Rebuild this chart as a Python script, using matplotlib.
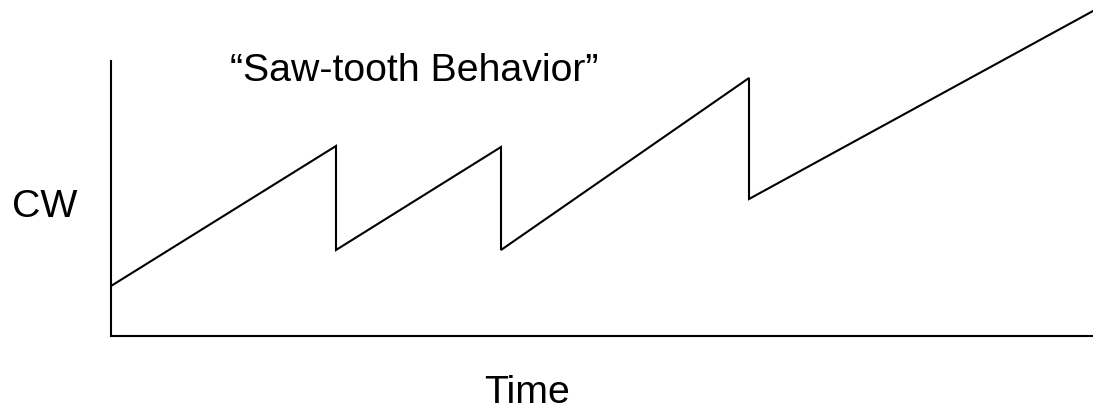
"""Saw-tooth congestion window sketch."""

import matplotlib

matplotlib.use("Agg")
import matplotlib.pyplot as plt

# Picture of the window over time (arbitrary units).
time_points = [0, 225, 225, 390, 390, 638, 638, 982]
cw_values = [50, 190, 86, 189, 86, 258, 137, 325]

title_text = "\u201cSaw-tooth Behavior\u201d"
x_label = "Time"
y_label = "CW"

W, H = 1093, 410
plt.rcParams["font.family"] = ["Liberation Sans", "DejaVu Sans"]

fig = plt.figure(figsize=(W / 100, H / 100), dpi=100)
# axes span from the y-axis line to the right edge, from the x-axis line to the top
ax = fig.add_axes([111 / W, (H - 337) / H, 1 - 111 / W, 337 / H])
ax.plot(time_points, cw_values, color="black", linewidth=1.5, solid_joinstyle="miter")
ax.set_xlim(0, 982)
ax.set_ylim(0, 337)

for side in ("top", "right"):
    ax.spines[side].set_visible(False)
ax.spines["left"].set_bounds(0, 275)
ax.spines["left"].set_linewidth(1.5)
ax.spines["bottom"].set_linewidth(1.5)
ax.set_xticks([])
ax.set_yticks([])
ax.patch.set_visible(False)

fs = 28.3
fig.text(230 / W, 1 - 81 / H, title_text, fontsize=fs, ha="left", va="baseline")
fig.text(12 / W, 1 - 217 / H, y_label, fontsize=fs, ha="left", va="baseline")
fig.text(527 / W, 1 - 403 / H, x_label, fontsize=fs, ha="center", va="baseline")

fig.savefig("out.png", dpi=100)
